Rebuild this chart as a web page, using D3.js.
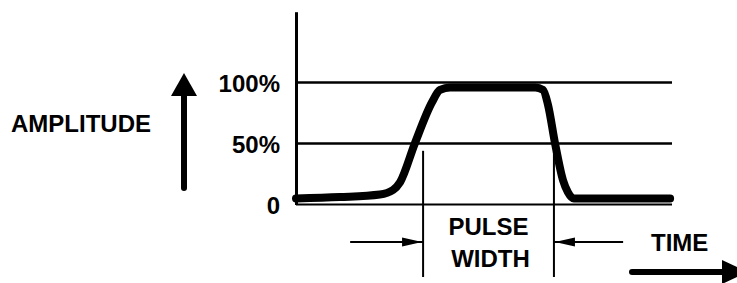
<!DOCTYPE html>
<html>
<head>
<meta charset="utf-8">
<script src="https://cdn.jsdelivr.net/npm/d3@7"></script>
<style>
  body { margin: 0; background: #fff; }
  svg { display: block; }
  text { font-family: 'Liberation Sans', Arial, sans-serif; font-weight: bold; font-size: 24px; fill: #000; }
</style>
</head>
<body>
<svg width="737" height="283"></svg>
<script>
// Pulse trace: time as % of the plot width, amplitude in %
const time      = [0,   11.7, 22.3, 25.8, 27.7, 31.6, 36.2, 38.3, 41,   63.6, 65.7, 67, 68.9, 71, 72.3, 73.9, 99.5]
const amplitude = [4.9, 6.1,  8.2,  11.9, 18.4, 50,   84,   93.9, 95.9, 95.9, 93.9, 82, 50,   20, 10.2, 4.9,  4.9]
// Reference levels and their labels
const levels = [0, 50, 100]
const levelLabels = ['0', '50%', '100%']
// Pulse width markers (50% crossings) and where the dimension arrows start
const widthMarks = [33.8, 68.6]
const arrowFrom = [14.4, 87]
const markTop = 44

const svg = d3.select('svg')
const margin = {top: 11.7, right: 65, bottom: 78.5, left: 296}
const width = 737 - margin.left - margin.right
const height = 283 - margin.top - margin.bottom

// Scales
const x = d3.scaleLinear().domain([0, 100]).range([margin.left, margin.left + width])
const y = d3.scaleLinear().domain([0, 158]).range([margin.top + height, margin.top])

// Level lines (0, 50%, 100%)
svg.selectAll('.level')
  .data(levels)
  .enter()
  .append('line')
  .attr('class', 'level')
  .attr('x1', x(0))
  .attr('x2', x(100))
  .attr('y1', d => y(d))
  .attr('y2', d => y(d))
  .attr('stroke', '#000')
  .attr('stroke-width', d => d === 0 ? 2 : 2.5)

// Y axis with the level labels
const axis = svg.append('g')
  .attr('class', 'axis axis-y')
  .attr('transform', 'translate(' + margin.left + ',0)')
  .call(d3.axisLeft(y).tickValues(levels).tickFormat((d, i) => levelLabels[i])
    .tickSize(0).tickSizeOuter(0).tickPadding(16))
axis.select('.domain').attr('stroke', '#000').attr('stroke-width', 3)
axis.selectAll('text').attr('dy', '0.36em')

// The pulse itself
const line = d3.line()
  .x((d, i) => x(time[i]))
  .y(d => y(d))
  .curve(d3.curveMonotoneX)
svg.append('path')
  .datum(amplitude)
  .attr('d', line)
  .attr('fill', 'none')
  .attr('stroke', '#000')
  .attr('stroke-width', 8)
  .attr('stroke-linecap', 'round')
  .attr('stroke-linejoin', 'round')

// Pulse width markers
const arrowY = 242
svg.selectAll('.mark')
  .data(widthMarks)
  .enter()
  .append('line')
  .attr('class', 'mark')
  .attr('x1', d => x(d))
  .attr('x2', d => x(d))
  .attr('y1', y(markTop))
  .attr('y2', 277)
  .attr('stroke', '#000')
  .attr('stroke-width', 2)

// Dimension arrows pointing at the markers
svg.selectAll('.dim')
  .data(widthMarks)
  .enter()
  .append('line')
  .attr('class', 'dim')
  .attr('x1', (d, i) => x(arrowFrom[i]))
  .attr('x2', d => x(d))
  .attr('y1', arrowY)
  .attr('y2', arrowY)
  .attr('stroke', '#000')
  .attr('stroke-width', 2)
svg.selectAll('.dim-head')
  .data(widthMarks)
  .enter()
  .append('path')
  .attr('class', 'dim-head')
  .attr('d', (d, i) => {
    const tip = x(d) + (i === 0 ? -1 : 1)
    const dir = i === 0 ? -1 : 1
    return 'M' + tip + ',' + arrowY + 'L' + (tip - dir * -20) + ',' + (arrowY - 4.5) +
      'L' + (tip - dir * -20) + ',' + (arrowY + 4.5) + 'Z'
  })
  .attr('fill', '#000')

const mid = (x(widthMarks[0]) + x(widthMarks[1])) / 2
svg.append('text').attr('x', mid).attr('y', 235).attr('text-anchor', 'middle').text('PULSE')
svg.append('text').attr('x', mid + 2).attr('y', 267).attr('text-anchor', 'middle').text('WIDTH')

// Amplitude label and arrow
svg.append('text').attr('x', 11).attr('y', 132).text('AMPLITUDE')
svg.append('line')
  .attr('x1', 184).attr('x2', 184).attr('y1', 188).attr('y2', 92)
  .attr('stroke', '#000').attr('stroke-width', 6).attr('stroke-linecap', 'round')
svg.append('path').attr('d', 'M184,73L197,96L171,96Z').attr('fill', '#000')

// Time label and arrow
svg.append('text').attr('x', 651).attr('y', 251).text('TIME')
svg.append('line')
  .attr('x1', 632).attr('x2', 726).attr('y1', 272).attr('y2', 272)
  .attr('stroke', '#000').attr('stroke-width', 6).attr('stroke-linecap', 'round')
svg.append('path').attr('d', 'M722,260L748,272L722,284Z').attr('fill', '#000')
</script>
</body>
</html>
